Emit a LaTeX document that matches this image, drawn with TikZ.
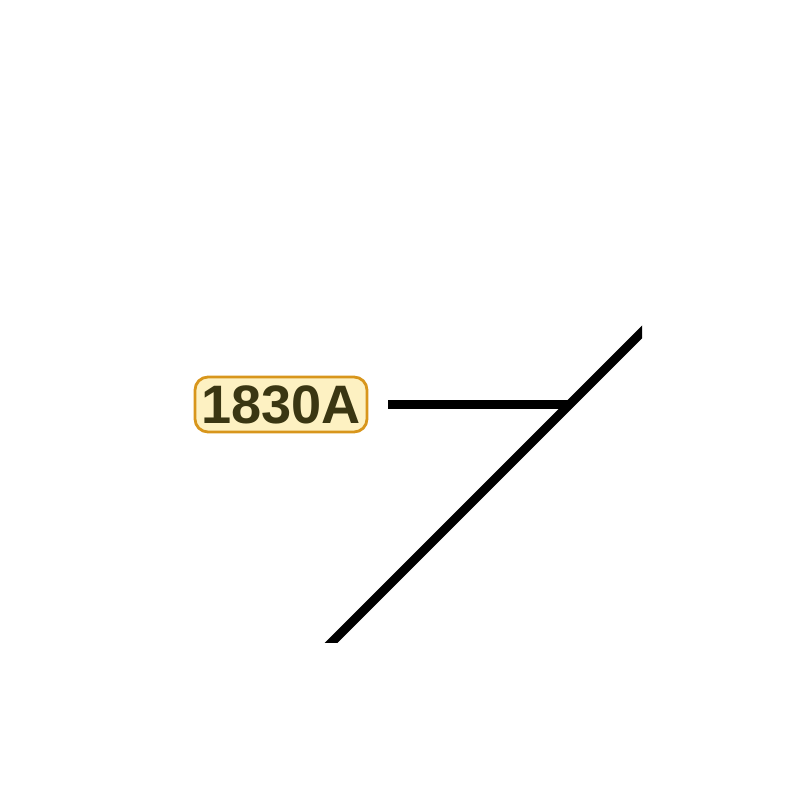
\documentclass[tikz,border=0pt]{standalone}
\usepackage{fontspec}
\setmainfont{Liberation Sans}
\usepackage{tikz}

\definecolor{tagfill}{HTML}{FDF1C2}
\definecolor{tagedge}{HTML}{D8961C}
\definecolor{tagtext}{HTML}{3A3612}

\tikzset{
  tag/.style={draw=tagedge,fill=tagfill,line width=0.8pt,rounded corners=1.3mm,
    text=tagtext,font=\bfseries\fontsize{15.4pt}{16pt}\selectfont,
    minimum width=1.72cm,minimum height=0.55cm,inner sep=0pt},
  wire/.style={line width=0.09cm,black}
}

\begin{document}
\begin{tikzpicture}
\useasboundingbox (0,0) rectangle (8,-8);
      \node[tag] (tag1830) at (2.81,-4.045) {1830A};
      \coordinate (joint) at (5.69,-4.045);
      \coordinate (wireLow) at (3.22,-6.52);
      \coordinate (wireHigh) at (6.52,-3.22);
% leader from the tag to the wire
\draw[wire,shorten <=0.2cm] (tag1830.east) -- (joint);
\begin{scope}
  \clip (0,0) rectangle (6.42,-6.42);
  \draw[wire] (wireLow) -- (wireHigh);
\end{scope}
    \end{tikzpicture}
\end{document}
